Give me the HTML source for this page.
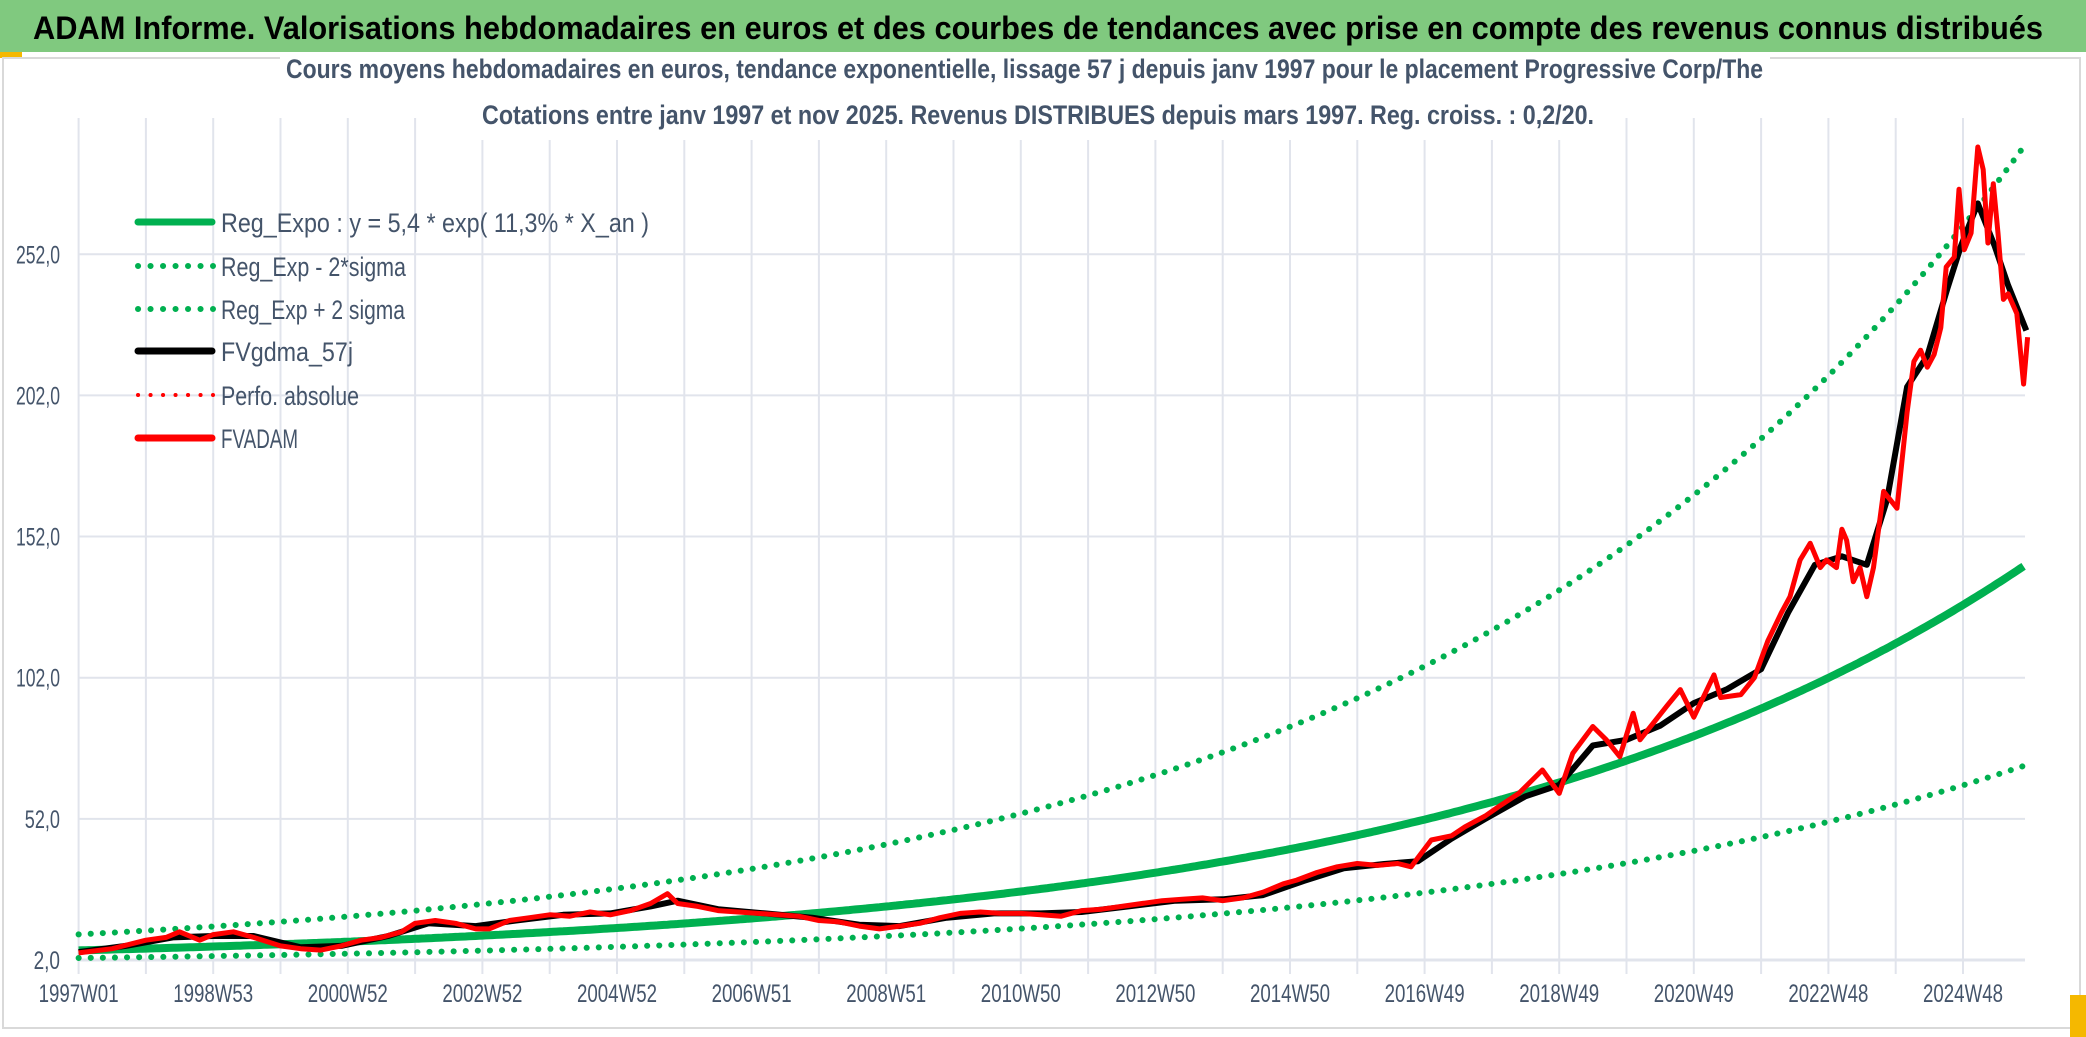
<!DOCTYPE html>
<html><head><meta charset="utf-8">
<style>
html,body{margin:0;padding:0;background:#fff;}
svg{display:block;font-family:"Liberation Sans",sans-serif;}
</style></head>
<body>
<svg id="chart" width="2086" height="1037" viewBox="0 0 2086 1037" xmlns="http://www.w3.org/2000/svg">
<rect x="0" y="0" width="2086" height="1037" fill="#ffffff"/>
<rect x="0" y="0" width="2086" height="52" fill="#80c97f"/>
<rect x="0" y="52" width="22" height="6" fill="#f5b800"/>
<text x="33" y="39" font-size="32" font-weight="bold" fill="#000" textLength="2010" lengthAdjust="spacingAndGlyphs">ADAM Informe. Valorisations hebdomadaires en euros et des courbes de tendances avec prise en compte des revenus connus distribués</text>
<rect x="3" y="58" width="2077" height="970" fill="none" stroke="#d9d9d9" stroke-width="2"/>
<rect x="2070" y="995" width="16" height="42" fill="#f5b800"/>
<g id="grid"></g>
<g id="ylabels"></g>
<g id="xlabels"></g>
<rect x="280" y="56" width="1490" height="48" fill="#fff"/>
<rect x="476" y="100" width="1124" height="40" fill="#fff"/>
<text x="286" y="78" font-size="27" font-weight="bold" fill="#44546a" textLength="1477" lengthAdjust="spacingAndGlyphs">Cours moyens hebdomadaires en euros, tendance exponentielle, lissage 57 j depuis janv 1997 pour le placement Progressive Corp/The</text>
<text x="482" y="124" font-size="27" font-weight="bold" fill="#44546a" textLength="1112" lengthAdjust="spacingAndGlyphs">Cotations entre janv 1997 et nov 2025. Revenus DISTRIBUES depuis mars 1997. Reg. croiss. : 0,2/20.</text>
<g id="series"></g>
<g id="legend"></g>
</svg>
<script>
// ---- data ----
const xTickLabels = ["1997W01","1998W53","2000W52","2002W52","2004W52","2006W51","2008W51","2010W50","2012W50","2014W50","2016W49","2018W49","2020W49","2022W48","2024W48"];
const yTicks = [2,52,102,152,202,252];
const yTickLabels = ["2,0","52,0","102,0","152,0","202,0","252,0"];
const regA = 5.4, regRate = 0.113, sigmaLow = 0.5, sigmaHigh = 2.05;
const redYears = [1997.0,1997.5,1998.0,1998.3,1998.5,1998.8,1999.0,1999.3,1999.6,2000.0,2000.3,2000.6,2000.9,2001.2,2001.5,2001.8,2002.0,2002.3,2002.6,2002.9,2003.1,2003.4,2003.7,2004.0,2004.3,2004.6,2004.9,2005.2,2005.5,2005.75,2005.9,2006.2,2006.5,2006.8,2007.1,2007.4,2007.7,2008.0,2008.3,2008.6,2008.9,2009.2,2009.5,2009.8,2010.1,2010.4,2010.7,2011.0,2011.3,2011.6,2011.9,2012.2,2012.5,2012.8,2013.1,2013.4,2013.7,2014.0,2014.3,2014.6,2014.9,2015.1,2015.4,2015.7,2016.0,2016.3,2016.6,2016.8,2017.1,2017.4,2017.6,2017.9,2018.1,2018.4,2018.75,2019.0,2019.2,2019.5,2019.7,2019.9,2020.1,2020.2,2020.4,2020.6,2020.8,2021.0,2021.3,2021.4,2021.7,2021.9,2022.1,2022.3,2022.43,2022.58,2022.73,2022.88,2022.97,2023.12,2023.2,2023.27,2023.37,2023.47,2023.57,2023.67,2023.82,2024.02,2024.17,2024.27,2024.37,2024.47,2024.57,2024.67,2024.75,2024.87,2024.94,2025.02,2025.12,2025.22,2025.3,2025.37,2025.45,2025.52,2025.6,2025.67,2025.8,2025.9,2025.96];
const redValues = [4.5,6,9,10,12,9,11,12,10,7,6,5.5,7,9,10,12,15,16,15,13,13,16,17,18,17.5,19,18,19.5,22,25.5,22,21,19.5,19,18.5,18,17.5,16,15.5,14,13,14,15,17,18.5,19,18.5,18.5,18,17.5,19.5,20,21,22,23,23.5,24,23,24,26,29,30.3,33,35,36.2,35.5,36.2,35,44.5,46,49.2,53,56.3,61,69.3,61,75.2,84.7,80,74,89.4,80,86,92,97.8,88,103,95,96,102,115,125,130.7,143.7,149.6,141,143.7,141,154.6,150.7,136,141,130.7,141,168,162,196,214,218,212,216.5,226,247.5,251,275,253.6,259.5,290,282,256,277,259.5,236,238,231,206,222.6];
const blackYears = [1997.0,1997.7,1998.4,1999.0,1999.6,2000.3,2000.9,2001.6,2002.2,2002.9,2003.5,2004.2,2004.9,2005.5,2005.9,2006.5,2007.2,2007.9,2008.6,2009.2,2009.9,2010.6,2011.3,2011.9,2012.6,2013.3,2014.0,2014.6,2015.2,2015.8,2016.4,2016.9,2017.4,2017.9,2018.5,2019.0,2019.5,2020.0,2020.5,2021.0,2021.5,2022.0,2022.4,2022.8,2023.2,2023.57,2023.87,2024.17,2024.47,2024.77,2024.97,2025.22,2025.47,2025.67,2025.94];
const blackValues = [4.8,7,10,10.5,10.5,6.5,7,10.5,15,14,16,18,18.5,21,23,20,18.5,17,14.5,14,17,18.5,18.5,19,21,23,23.5,25,30,34.5,36,37,45,52,60,64,78,80,85,93,98,105,125,142,145,142,165,205,216,240,255,270,255,241,225];
// ---- scales ----
const X0 = 78.6, XPY = 67.3, Y0 = 960, YPU = 2.823, XEND = 2025, YTOP = 118;
function xs(year){ return X0 + (year - 1997) * XPY; }
function ys(v){ return Y0 - (v - 2) * YPU; }
const NS = "http://www.w3.org/2000/svg";
function mk(tag, attrs, parent){ const e = document.createElementNS(NS, tag); for (const k in attrs) e.setAttribute(k, attrs[k]); parent.appendChild(e); return e; }
const grid = document.getElementById('grid');
for (let k = 0; k <= 28; k++) {
  const gx = Math.min(xs(1997 + k), XEND);
  const l = mk('line', {x1: gx, x2: gx, y1: YTOP, y2: Y0 + 14, stroke: '#e1e4ec', 'stroke-width': 2}, grid);
  
  
}
const ylab = document.getElementById('ylabels');
yTicks.forEach((v, i) => {
  const l = mk('line', {x1: X0, x2: XEND, y1: ys(v), y2: ys(v), stroke: '#e1e4ec', 'stroke-width': i === 0 ? 3 : 2}, grid);
  
  
  const t = mk('text', {x: 60, y: ys(v) + 9, 'font-size': 25, fill: '#44546a', 'text-anchor': 'end', textLength: yTickLabels[i].length * 8.8, lengthAdjust: 'spacingAndGlyphs'}, ylab);
  t.textContent = yTickLabels[i];
  
  
});
const xlab = document.getElementById('xlabels');
xTickLabels.forEach((s, i) => {
  const t = mk('text', {x: xs(1997 + 2 * i), y: 1002, 'font-size': 25, fill: '#44546a', 'text-anchor': 'middle', textLength: 80, lengthAdjust: 'spacingAndGlyphs'}, xlab);
  t.textContent = s;
  
  
});
const series = document.getElementById('series');
function curve(factor){
  const pts = [];
  for (let yr = 1997; yr <= 2025.93; yr += 0.05) pts.push(xs(yr).toFixed(1) + ',' + ys(regA * factor * Math.exp(regRate * (yr - 1997))).toFixed(1));
  return pts.join(' ');
}
const up = mk('polyline', {points: curve(sigmaHigh), fill: 'none', stroke: '#00b050', 'stroke-width': 6, 'stroke-dasharray': '0.1 12', 'stroke-linecap': 'round'}, series);


const lo = mk('polyline', {points: curve(sigmaLow), fill: 'none', stroke: '#00b050', 'stroke-width': 6, 'stroke-dasharray': '0.1 12', 'stroke-linecap': 'round'}, series);


const reg = mk('polyline', {points: curve(1), fill: 'none', stroke: '#00b050', 'stroke-width': 8}, series);


const blk = mk('polyline', {points: blackYears.map((y, i) => xs(y).toFixed(1) + ',' + ys(blackValues[i]).toFixed(1)).join(' '), fill: 'none', stroke: '#000', 'stroke-width': 6, 'stroke-linejoin': 'round'}, series);


const red = mk('polyline', {points: redYears.map((y, i) => xs(y).toFixed(1) + ',' + ys(redValues[i]).toFixed(1)).join(' '), fill: 'none', stroke: '#ff0000', 'stroke-width': 5, 'stroke-linejoin': 'round'}, series);


// legend
const legend = document.getElementById('legend');
const legLabels = ["Reg_Expo : y = 5,4 * exp( 11,3% *  X_an )","Reg_Exp - 2*sigma","Reg_Exp + 2 sigma","FVgdma_57j","Perfo. absolue","FVADAM"];
const legWidths = [428,185,184,132,138,77];
const legRows = [222,266,309,351,395,438];
const legColors = ['#00b050','#00b050','#00b050','#000','#ff0000','#ff0000'];
const legDots = [false,true,true,false,true,false];
legLabels.forEach((s, i) => {
  const g = mk('g', {}, legend);
  
  
  const y = legRows[i];
  if (legDots[i]) mk('line', {x1: 138, x2: 213, y1: y, y2: y, stroke: legColors[i], 'stroke-width': i === 4 ? 4 : 6, 'stroke-dasharray': '0.1 12.4', 'stroke-linecap': 'round'}, g);
  else mk('line', {x1: 138, x2: 212, y1: y, y2: y, stroke: legColors[i], 'stroke-width': 7, 'stroke-linecap': 'round'}, g);
  const t = mk('text', {x: 221, y: y + 10, 'font-size': 27, fill: '#44546a', textLength: legWidths[i], lengthAdjust: 'spacingAndGlyphs'}, g);
  t.textContent = s;
});
</script>
</body></html>
